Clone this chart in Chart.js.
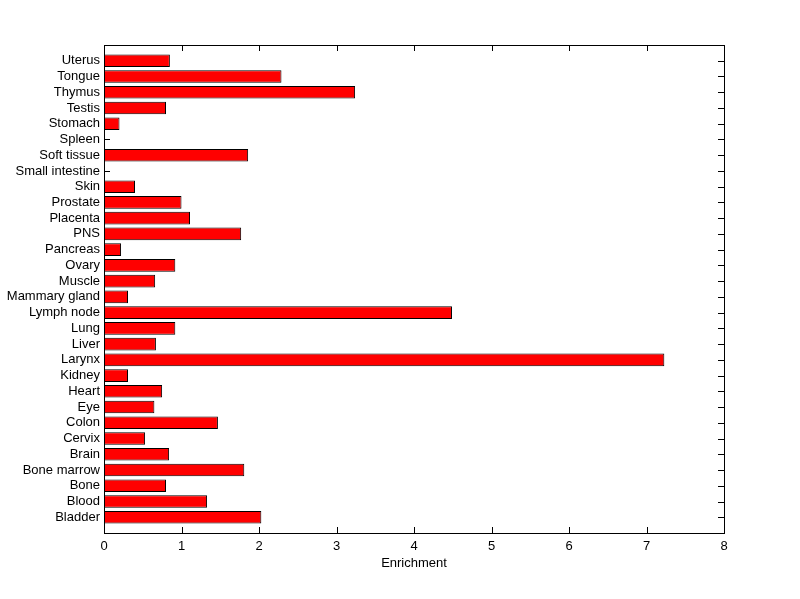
<!DOCTYPE html>
<html>
<head>
<meta charset="utf-8">
<script src="https://cdn.jsdelivr.net/npm/chart.js@4"></script>
<style>
  html, body { margin: 0; padding: 0; background: #fff; }
</style>
</head>
<body>
<canvas id="chart_1" width="800" height="599"></canvas>
<script>
// tissues, top to bottom
var tissues = ["Uterus", "Tongue", "Thymus", "Testis", "Stomach", "Spleen", "Soft tissue",
  "Small intestine", "Skin", "Prostate", "Placenta", "PNS", "Pancreas", "Ovary", "Muscle",
  "Mammary gland", "Lymph node", "Lung", "Liver", "Larynx", "Kidney", "Heart", "Eye",
  "Colon", "Cervix", "Brain", "Bone marrow", "Bone", "Blood", "Bladder"];
var enrichment = [0.85, 2.29, 3.24, 0.80, 0.20, 0, 1.86,
  0, 0.40, 1.00, 1.11, 1.77, 0.22, 0.92, 0.66,
  0.31, 4.49, 0.92, 0.67, 7.23, 0.31, 0.75, 0.65,
  1.47, 0.53, 0.84, 1.81, 0.80, 1.33, 2.03];
var xTicks = [0, 1, 2, 3, 4, 5, 6, 7, 8];
var xTitle = "Enrichment";

// empty slot at both ends so the categories sit like matlab's 0..31 axis
var labels = [""].concat(tissues).concat([""]);
var values = [null].concat(enrichment).concat([null]);

var font = { family: "Liberation Sans, Arial, sans-serif", size: 13 };

const ctx1 = document.getElementById("chart_1");

new Chart(ctx1, {
  type: "bar",
  data: {
    labels: labels,
    datasets: [
      {
        label: xTitle,
        data: values,
        backgroundColor: "#ff0000",
        borderColor: "#000000",
        borderWidth: 1,
        borderSkipped: false,
        barPercentage: 0.8,
        categoryPercentage: 1,
      },
    ],
  },
  options: {
    indexAxis: "y",
    responsive: false,
    animation: false,
    layout: { padding: { top: 45, right: 76, left: 0, bottom: 0 } },
    plugins: {
      legend: { display: false },
      tooltip: { enabled: false },
    },
    scales: {
      x: {
        min: xTicks[0],
        max: xTicks[xTicks.length - 1],
        afterFit: (scale) => { scale.height = 66; },
        afterBuildTicks: (scale) => {
          scale.ticks = xTicks.map((v) => ({ value: v }));
        },
        grid: { display: false, drawTicks: false, tickLength: 0 },
        border: { display: false },
        ticks: { color: "#000", font: font, padding: 6, maxRotation: 0 },
        title: {
          display: true,
          text: xTitle,
          color: "#000",
          font: font,
          padding: { top: 0, bottom: 28 },
        },
      },
      y: {
        offset: false,
        afterFit: (scale) => { scale.width = 104; },
        grid: { display: false, drawTicks: false, tickLength: 0 },
        border: { display: false },
        ticks: { color: "#000", font: font, padding: 4, autoSkip: false },
      },
    },
  },
  plugins: [
    {
      // inward tick marks, drawn under the bars
      id: "innerTicks",
      beforeDatasetsDraw: (chart) => {
        const { ctx, chartArea: { left, right, top, bottom }, scales: { x, y } } = chart;
        const len = 6;
        ctx.save();
        ctx.strokeStyle = "#000";
        ctx.lineWidth = 1;
        ctx.beginPath();
        xTicks.forEach((v) => {
          const px = Math.round(x.getPixelForValue(v)) + 0.5;
          ctx.moveTo(px, bottom);
          ctx.lineTo(px, bottom - len);
          ctx.moveTo(px, top);
          ctx.lineTo(px, top + len);
        });
        tissues.forEach((t, i) => {
          const py = Math.round(y.getPixelForValue(i + 1)) + 0.5;
          ctx.moveTo(left, py);
          ctx.lineTo(left + len, py);
          ctx.moveTo(right, py);
          ctx.lineTo(right - len, py);
        });
        ctx.stroke();
        ctx.restore();
      },
      // axes box
      afterDatasetsDraw: (chart) => {
        const { ctx, chartArea: { left, right, top, bottom } } = chart;
        ctx.save();
        ctx.strokeStyle = "#000";
        ctx.lineWidth = 1;
        ctx.strokeRect(Math.round(left) + 0.5, Math.round(top) + 0.5,
          Math.round(right - left), Math.round(bottom - top));
        ctx.restore();
      },
    },
  ],
});
</script>
</body>
</html>
